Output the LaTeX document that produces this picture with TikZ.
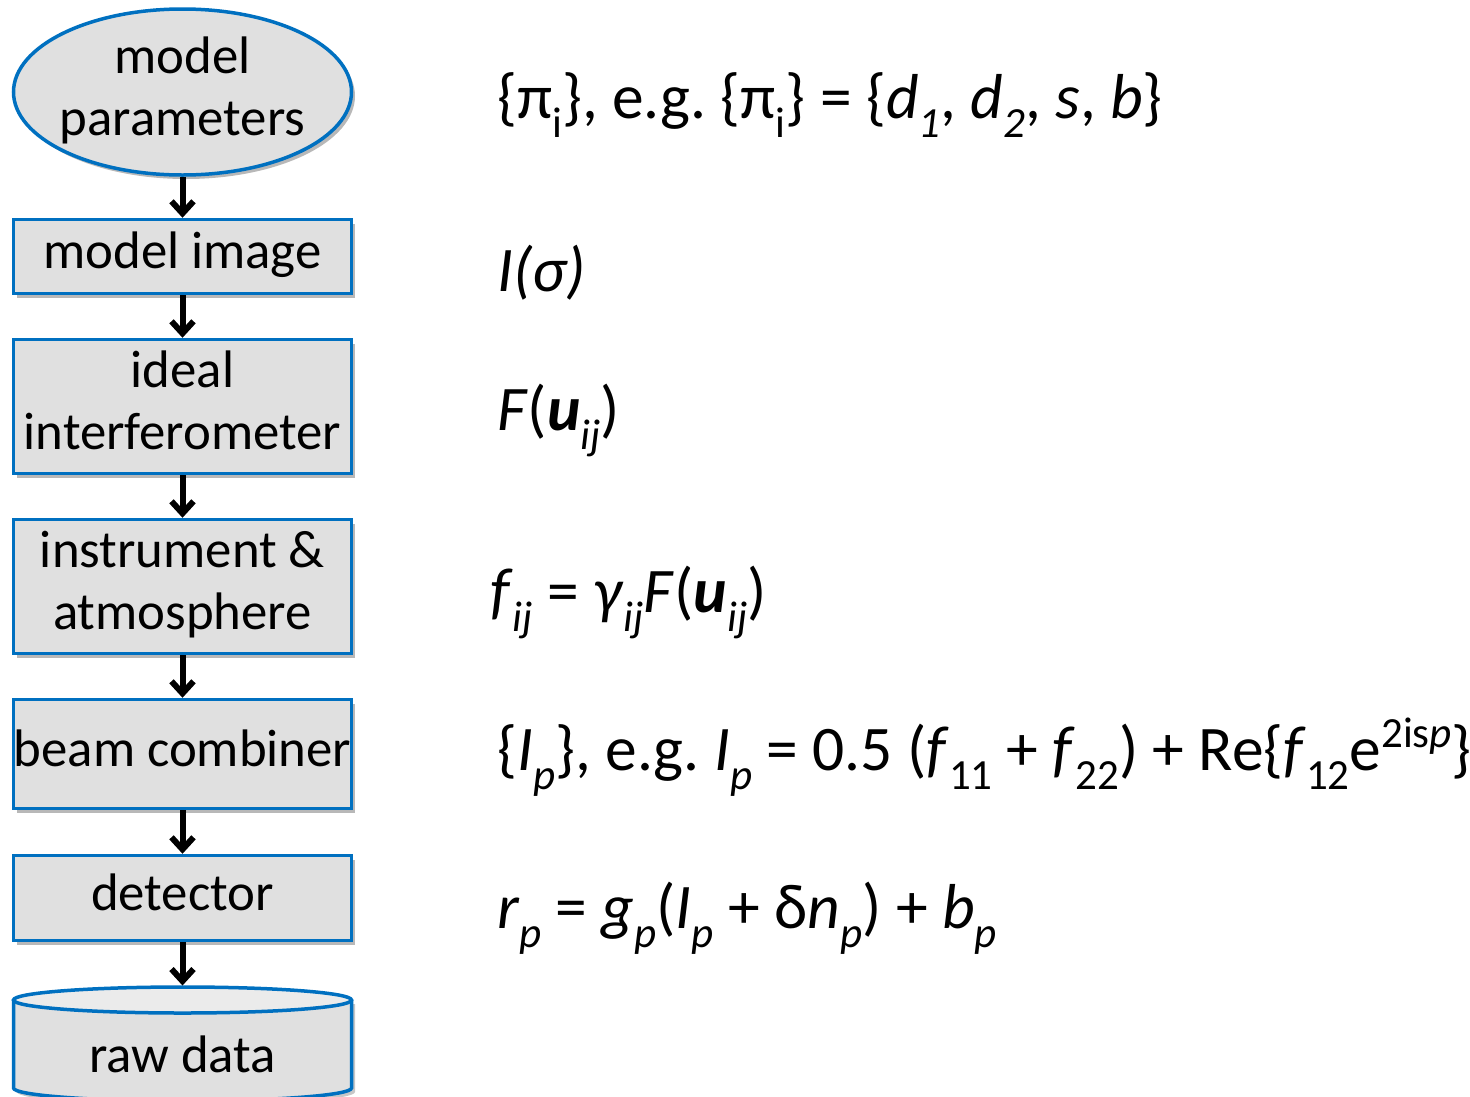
\documentclass[tikz,border=0pt]{standalone}
\usepackage{fontspec}
\setmainfont{Carlito}
\usetikzlibrary{shapes.geometric,arrows.meta,shadows}
\definecolor{bblue}{RGB}{0,112,192}
\definecolor{bgray}{RGB}{224,224,224}
\definecolor{cgray}{RGB}{235,235,235}
\frenchspacing
\newcommand\sbs[1]{\raisebox{-0.3em}{\fontsize{43}{43}\selectfont #1}}
\newcommand\sps[1]{\raisebox{0.36em}{\fontsize{43}{43}\selectfont #1}}
\newcommand\two[2]{\begin{tabular}{@{}c@{}}#1\\#2\end{tabular}}
\newcommand\one[1]{\begin{tabular}{@{}c@{}}#1\end{tabular}}
\begin{document}
\begin{tikzpicture}[x=1pt,y=-1pt,
  every node/.style={font=\fontsize{52.8}{62}\selectfont},
  shad/.style={drop shadow={shadow xshift=3.5pt,shadow yshift=-4pt,opacity=0.28,fill=black}},
  flowbox/.style={rectangle,draw=bblue,fill=bgray,line width=3.5pt,inner sep=0pt,
    minimum width=338pt,shad},
  arr/.style={draw=black,line width=6pt,-{Straight Barb[length=12pt,width=22pt]}},
  eq/.style={anchor=base west,inner sep=0pt,font=\fontsize{63.5}{72}\selectfont}]
\useasboundingbox (0,0) rectangle (1470,1096);
% start ellipse
\node[ellipse,draw=bblue,fill=bgray,line width=3.5pt,inner sep=0pt,
  minimum width=338pt,minimum height=166pt,shad] (mp) at (182.5,92) {};
\node[inner sep=0pt] (mpt) at (mp.center) {\two{model}{parameters}};
\node[flowbox,minimum height=74pt] (mi) at (182.5,256.5) {\one{model image}};
\node[flowbox,minimum height=134pt] (ii) at (182.5,406.5) {\two{ideal}{interferometer}};
\node[flowbox,minimum height=134pt] (ia) at (182.5,586.5) {\two{instrument \&}{atmosphere}};
\node[flowbox,minimum height=109pt] (bc) at (182.5,754) {\makebox[0pt][c]{\one{beam combiner}}};
\node[flowbox,minimum height=85pt] (de) at (182.5,898) {\one{detector}};
% raw data cylinder
\fill[black,opacity=0.22] (17,1004) -- (17,1092) arc[start angle=180,end angle=0,x radius=169,y radius=13] -- (355,1004) -- cycle;
\path[fill=bgray,draw=bblue,line width=3.5pt] (13.5,1000) -- (13.5,1088)
  arc[start angle=180,end angle=0,x radius=169,y radius=13] -- (351.5,1000);
\path[fill=cgray,draw=bblue,line width=3.5pt] (182.5,1000) ellipse[x radius=169,y radius=13];
\coordinate (rdtop) at (182.5,985.5);
\node[inner sep=0pt] (rd) at (182.5,1060) {\one{raw data}};
% arrows
\draw[arr] (mp.south) -- (mi.north);
\draw[arr] (mi.south) -- (ii.north);
\draw[arr] (ii.south) -- (ia.north);
\draw[arr] (ia.south) -- (bc.north);
\draw[arr] (bc.south) -- (de.north);
\draw[arr] (de.south) -- (rdtop);
% equations
\node[eq] (e1) at (497,118) {\{π\sbs{i}\}, e.g. \{π\sbs{i}\} = \{\textit{d}\sbs{\textit{1}}, \textit{d}\sbs{\textit{2}}, \textit{s}, \textit{b}\}};
\node[eq] (e2) at (497,291) {\textit{I(σ)}};
\node[eq] (e3) at (497,430) {\textit{F}(\textbf{\textit{u}}\sbs{\textit{ij}})};
\node[eq] (e4) at (490,612) {\textit{f}\sbs{\textit{ij}} = \textit{γ}\sbs{\textit{ij}}\textit{F}(\textbf{\textit{u}}\sbs{\textit{ij}})};
\node[eq] (e5) at (497,770) {\{\textit{I}\sbs{\textit{p}}\}, e.g. \textit{I}\sbs{\textit{p}} = 0.5 (\textit{f}\sbs{11} + \textit{f}\sbs{22}) + Re\{\textit{f}\sbs{12}e\sps{2is\textit{p}}\}};
\node[eq] (e6) at (497,928) {\textit{r}\sbs{\textit{p}} = \textit{g}\sbs{\textit{p}}(\textit{I}\sbs{\textit{p}} + δ\textit{n}\sbs{\textit{p}}) + \textit{b}\sbs{\textit{p}}};
\end{tikzpicture}
\end{document}
